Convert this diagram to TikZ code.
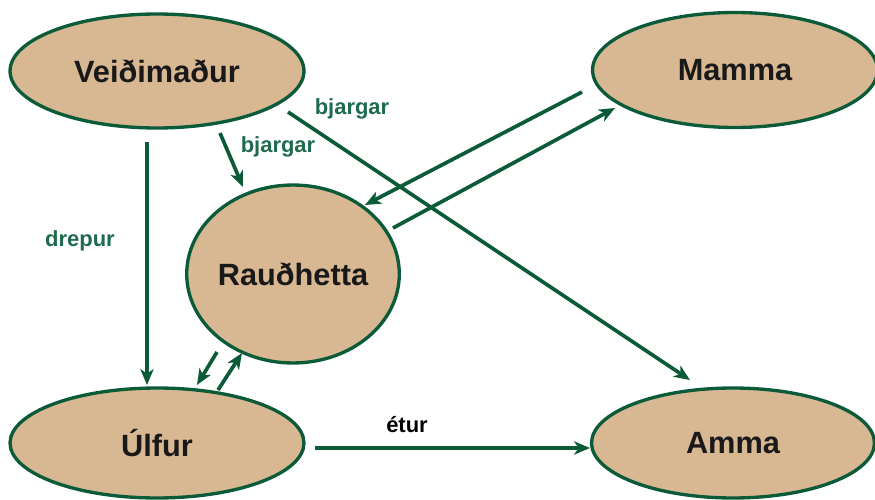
\documentclass[tikz,border=0pt]{standalone}
\usepackage{fontspec}
\setmainfont{Liberation Sans}
\usetikzlibrary{shapes.geometric,arrows.meta,calc}
\definecolor{tan}{HTML}{D8B793}
\definecolor{edge}{HTML}{0B5A38}
\definecolor{lbl}{HTML}{1E6B4E}
\tikzset{
  actor/.style={ellipse, draw=edge, line width=1.9pt, fill=tan, inner sep=0pt,
    font=\fontsize{17.5}{20}\selectfont\bfseries, text=black!90},
  rel/.style={draw=edge, line width=2.1pt, -{Stealth[length=9pt,width=7.5pt,inset=2.5pt]}},
  verb/.style={font=\fontsize{12.5}{14}\selectfont\bfseries, text=lbl},
}
\begin{document}
\begin{tikzpicture}[x=0.02cm,y=-0.02cm]
  \useasboundingbox (0,0) rectangle (875,500);
  % characters
  \node[actor, minimum width=5.88cm, minimum height=2.28cm] (v) at (157,71) {Veiðimaður};
  \node[actor, minimum width=5.7cm, minimum height=2.3cm] (m) at (735,70) {Mamma};
  \node[actor, minimum width=4.16cm, minimum height=3.56cm] (r) at (293,274) {Rauðhetta};
  \node[actor, minimum width=5.88cm, minimum height=2.2cm] (u) at (157,443) {Úlfur};
  \node[actor, minimum width=5.66cm, minimum height=2.2cm] (a) at (733,443) {Amma};
  % relations
  \draw[rel] ($(v)+(-10,71)$) -- ($(u)+(-10,-58)$);
  \draw[rel] ($(v)+(63,62)$) -- ($(r)+(-50,-87)$);
  \draw[rel] ($(v)+(131,41)$) -- ($(a)+(-43,-63)$);
  \draw[rel] ($(m)+(-153,22)$) -- ($(r)+(72,-69)$);
  \draw[rel] ($(r)+(100,-46)$) -- ($(m)+(-120,38)$);
  \draw[rel] ($(r)+(-76,78)$) -- ($(u)+(40,-58)$);
  \draw[rel] ($(u)+(61,-53)$) -- ($(r)+(-51,79)$);
  \draw[rel] ($(u)+(158,5)$) -- ($(a)+(-143,5)$);
  % labels
  \node[verb] (ld) at (80,241) {drepur};
  \node[verb] (lb1) at (278,147) {bjargar};
  \node[verb] (lb2) at (352,109) {bjargar};
  \node[verb, text=black] (le) at (407,425) {étur};
\end{tikzpicture}
\end{document}
